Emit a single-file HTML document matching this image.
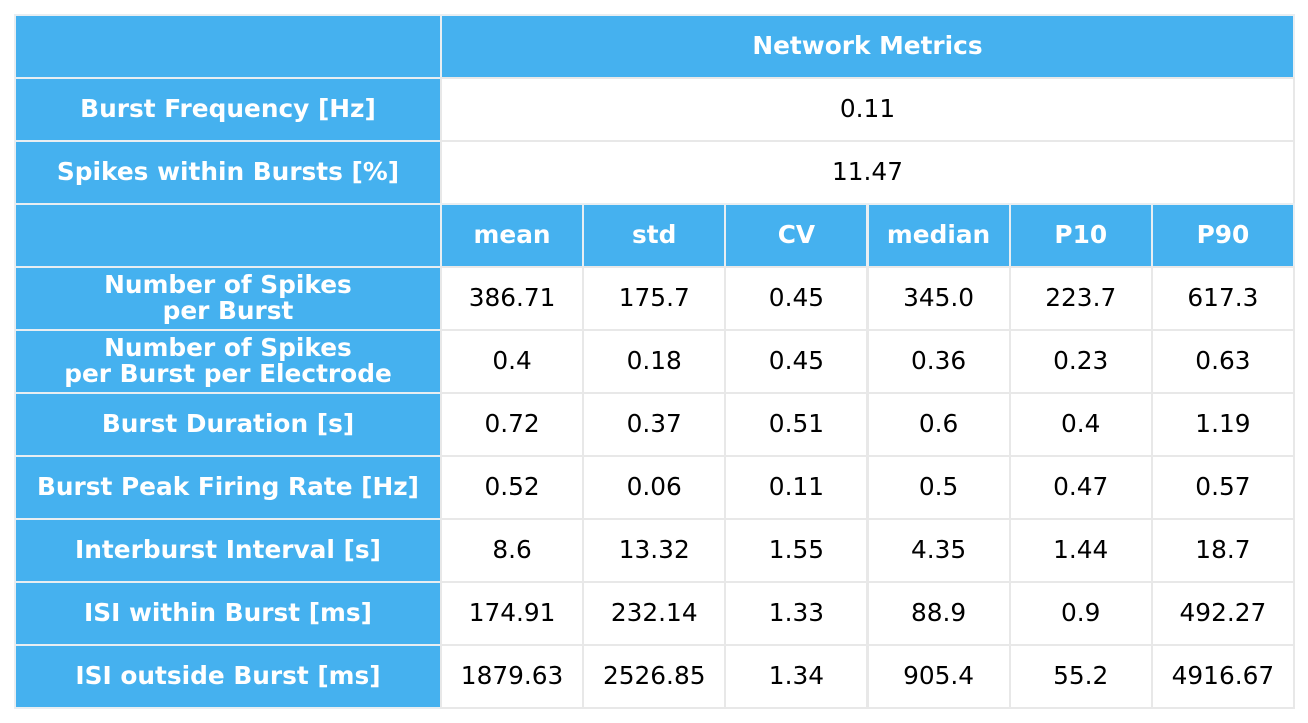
<!DOCTYPE html>
<html><head><meta charset="utf-8"><style>
body{margin:0;width:1308px;height:723px;background:#fff;position:relative;overflow:hidden;font-family:"DejaVu Sans","Liberation Sans",sans-serif;}
.c{position:absolute;box-sizing:border-box;display:flex;align-items:center;justify-content:center;text-align:center;font-size:24.8px;line-height:26px;border:2px solid #e8e8e8;padding-bottom:2px;}
.h{background:#45b1ef;color:#fff;font-weight:bold;border-color:#e8eef2;}
.v{background:#fff;color:#000;}
</style></head><body>
<div id="t"></div>
<script>
const rowLabels=["Number of Spikes<br>per Burst","Number of Spikes<br>per Burst per Electrode","Burst Duration [s]","Burst Peak Firing Rate [Hz]","Interburst Interval [s]","ISI within Burst [ms]","ISI outside Burst [ms]"];
const colLabels=["mean","std","CV","median","P10","P90"];
const values=[
["386.71","175.7","0.45","345.0","223.7","617.3"],
["0.4","0.18","0.45","0.36","0.23","0.63"],
["0.72","0.37","0.51","0.6","0.4","1.19"],
["0.52","0.06","0.11","0.5","0.47","0.57"],
["8.6","13.32","1.55","4.35","1.44","18.7"],
["174.91","232.14","1.33","88.9","0.9","492.27"],
["1879.63","2526.85","1.34","905.4","55.2","4916.67"]];
const t=document.getElementById('t');
const L=14,T=14,W0=426,X1=440,R=1293,RH=63;
const cw=(R-X1)/6;
function cell(x,y,w,h,txt,cls,name){
 const d=document.createElement('div');
 d.className='c '+cls;
 d.style.left=x+'px';d.style.top=y+'px';d.style.width=(w+2)+'px';d.style.height=(h+2)+'px';
 d.innerHTML=txt;
 
 
 t.appendChild(d);
}
cell(L,T,W0,RH,'','h','corner-header');
cell(X1,T,R-X1,RH,'Network Metrics','h','network-metrics-header');
cell(L,T+RH,W0,RH,'Burst Frequency [Hz]','h','burst-frequency-label');
cell(X1,T+RH,R-X1,RH,'0.11','v','burst-frequency-value');
cell(L,T+2*RH,W0,RH,'Spikes within Bursts [%]','h','spikes-within-bursts-label');
cell(X1,T+2*RH,R-X1,RH,'11.47','v','spikes-within-bursts-value');
cell(L,T+3*RH,W0,RH,'','h','stats-corner-header');
colLabels.forEach((c,i)=>cell(X1+i*cw,T+3*RH,cw,RH,c,'h','col-header-'+c.toLowerCase()));
rowLabels.forEach((r,j)=>{
 const y=T+(4+j)*RH;
 cell(L,y,W0,RH,r,'h','row-label-'+j);
 values[j].forEach((v,i)=>cell(X1+i*cw,y,cw,RH,v,'v','value-r'+j+'-'+colLabels[i].toLowerCase()));
});
</script>
</body></html>
